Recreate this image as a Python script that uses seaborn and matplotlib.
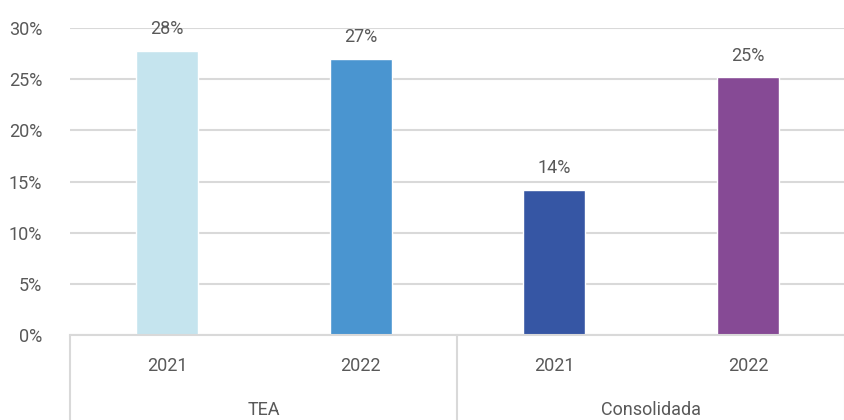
import matplotlib
matplotlib.use("Agg")
import matplotlib.pyplot as plt
import seaborn as sns
import pandas as pd

# Data
groups = ["TEA", "TEA", "Consolidada", "Consolidada"]
years = ["2021", "2022", "2021", "2022"]
values = [27.8, 27.0, 14.2, 25.2]
labels = ["28%", "27%", "14%", "25%"]
colors = ["#C5E4EE", "#4A95D0", "#3656A4", "#864A95"]

df = pd.DataFrame({
    "key": [g + " " + y for g, y in zip(groups, years)],
    "value": values,
})

sns.set_style("white")
plt.rcParams["font.family"] = ["Roboto", "DejaVu Sans"]
text_color = "#595959"
grid_color = "#D9D9D9"

fig = plt.figure(figsize=(8.45, 4.2), dpi=100)
ax = fig.add_axes([70 / 845, 1 - 335 / 420, 775 / 845, 307 / 420])

sns.barplot(data=df, x="key", y="value", hue="key", palette=colors,
            width=0.32, legend=False, ax=ax, saturation=1)

ax.set_ylim(0, 30)
ax.set_yticks(range(0, 31, 5))
ax.set_yticklabels([f"{v}%" for v in range(0, 31, 5)])
ax.set_xticks(range(len(years)))
ax.set_xticklabels(years)
ax.set_xlim(-0.5, len(years) - 0.5)
ax.set_xlabel("")
ax.set_ylabel("")

ax.yaxis.grid(True, color=grid_color, linewidth=1.5)
ax.set_axisbelow(True)
for s in ["top", "right", "left"]:
    ax.spines[s].set_visible(False)
ax.spines["bottom"].set_color(grid_color)
ax.spines["bottom"].set_linewidth(1.5)

ax.tick_params(axis="y", length=0, pad=20, labelsize=13, labelcolor=text_color)
ax.tick_params(axis="x", length=0, pad=16, labelsize=13, labelcolor=text_color)

for i, (v, lab) in enumerate(zip(values, labels)):
    ax.annotate(lab, (i, v), xytext=(0, 9), textcoords="offset points",
                ha="center", va="bottom", fontsize=13, color=text_color)

# group separators and labels below the axis
sep_depth = 85 / 307
for xs in [0.0, 0.5, 1.0]:
    ax.plot([xs, xs], [0, -sep_depth], transform=ax.transAxes,
            color=grid_color, linewidth=1.5, clip_on=False)
ax.text(0.25, -75 / 307, "TEA", transform=ax.transAxes, ha="center",
        va="center", fontsize=13, color=text_color)
ax.text(0.75, -75 / 307, "Consolidada", transform=ax.transAxes, ha="center",
        va="center", fontsize=13, color=text_color)

fig.savefig("out.png", dpi=100)
